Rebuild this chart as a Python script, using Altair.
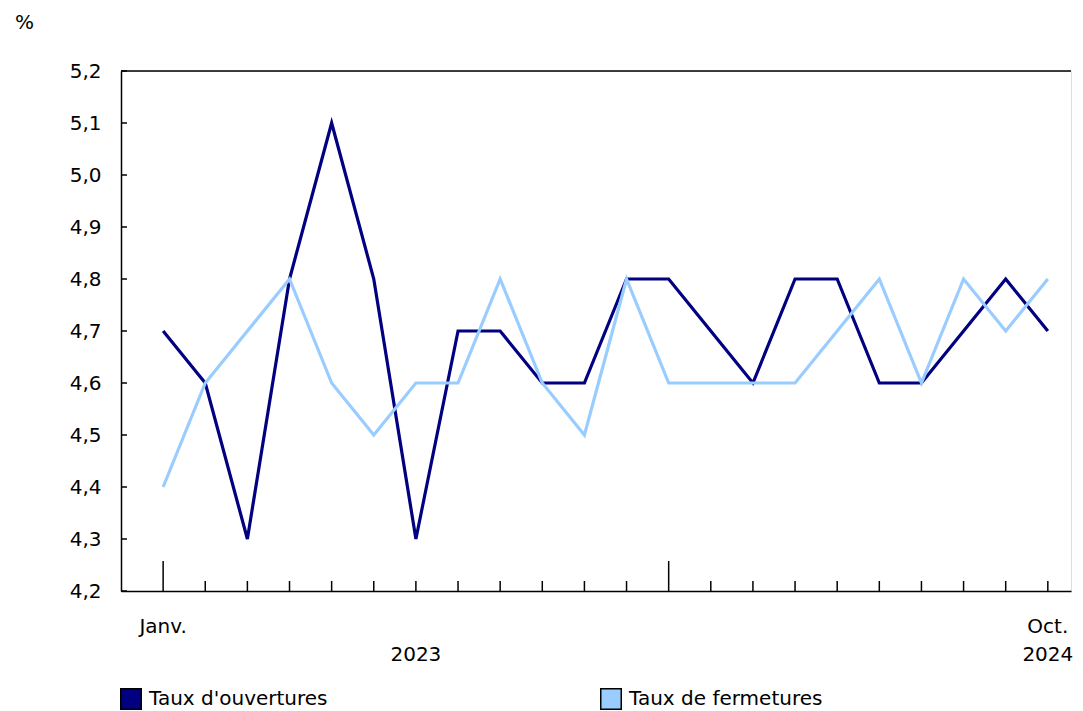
import altair as alt
import pandas as pd

# ---- data ----
month_idx = list(range(22))  # Jan 2023 .. Oct 2024
ouvertures = [4.7, 4.6, 4.3, 4.8, 5.1, 4.8, 4.3, 4.7, 4.7, 4.6, 4.6, 4.8,
              4.8, 4.7, 4.6, 4.8, 4.8, 4.6, 4.6, 4.7, 4.8, 4.7]
fermetures = [4.4, 4.6, 4.7, 4.8, 4.6, 4.5, 4.6, 4.6, 4.8, 4.6, 4.5, 4.8,
              4.6, 4.6, 4.6, 4.6, 4.7, 4.8, 4.6, 4.8, 4.7, 4.8]
series_names = ["Taux d'ouvertures", "Taux de fermetures"]
series_colors = ["#000080", "#99CCFF"]
y_ticks = [4.2, 4.3, 4.4, 4.5, 4.6, 4.7, 4.8, 4.9, 5.0, 5.1, 5.2]
major_ticks = [0, 12]
minor_ticks = [i for i in month_idx if i not in major_ticks]
month_labels = ["Janv.", "Oct."]
month_label_idx = [0, 21]
year_labels = ["2023", "2024"]
year_label_idx = [6, 21]

W, H = 950, 520
FONT = "DejaVu Sans"
FS = 20

df = pd.DataFrame({
    "idx": month_idx * 2,
    "value": ouvertures + fermetures,
    "series": [series_names[0]] * 22 + [series_names[1]] * 22,
})

xscale = alt.Scale(domain=[-1, 21.55], nice=False, zero=False)
yscale = alt.Scale(domain=[4.2, 5.2], nice=False, zero=False)
cscale = alt.Scale(domain=series_names, range=series_colors)

lines = alt.Chart(df).mark_line(strokeWidth=3.2, strokeJoin="miter").encode(
    x=alt.X("idx:Q", scale=xscale,
            axis=alt.Axis(labels=False, ticks=False, grid=False, title=None,
                          domainColor="black", domainWidth=1.5)),
    y=alt.Y("value:Q", scale=yscale,
            axis=alt.Axis(values=y_ticks, ticks=False, grid=False,
                          labelExpr="replace(format(datum.value, '.1f'), '.', ',')",
                          labelPadding=20, labelFontSize=FS, labelColor="black",
                          labelFont=FONT, domainColor="black", domainWidth=1.5,
                          title="%", titleAngle=0, titleX=-97, titleY=-49,
                          titleAlign="center", titleBaseline="middle",
                          titleFontSize=FS, titleFontWeight="normal",
                          titleFont=FONT, titleColor="black")),
    color=alt.Color("series:N", scale=cscale, legend=None),
)

# manual legend (one square + label per series)
legend_layers = []
for k, name in enumerate(series_names):
    ldf = pd.DataFrame({"series": [name]})
    sq = alt.Chart(ldf).mark_square(size=420, filled=True, stroke="black",
                                    strokeWidth=1.5, opacity=1).encode(
        x=alt.value(10 + 480 * k), y=alt.value(628),
        fill=alt.Fill("series:N", scale=cscale, legend=None))
    tx = alt.Chart(ldf).mark_text(font=FONT, fontSize=FS, color="black",
                                  align="left", baseline="middle").encode(
        x=alt.value(28 + 480 * k), y=alt.value(628), text="series:N")
    legend_layers += [sq, tx]

ytick_df = pd.DataFrame({"v": y_ticks})
yticks = alt.Chart(ytick_df).mark_rule(color="black", strokeWidth=1.5).encode(
    y=alt.Y("v:Q", scale=yscale),
    x=alt.value(0), x2=alt.value(6),
)

top_df = pd.DataFrame({"v": [y_ticks[-1]]})
top_line = alt.Chart(top_df).mark_rule(color="black", strokeWidth=1.5).encode(
    y=alt.Y("v:Q", scale=yscale),
    x=alt.value(0), x2=alt.value(W),
)

minor_df = pd.DataFrame({"i": minor_ticks})
minor = alt.Chart(minor_df).mark_rule(color="black", strokeWidth=1.5).encode(
    x=alt.X("i:Q", scale=xscale),
    y=alt.value(H), y2=alt.value(H - 10),
)
major_df = pd.DataFrame({"i": major_ticks})
major = alt.Chart(major_df).mark_rule(color="black", strokeWidth=1.5).encode(
    x=alt.X("i:Q", scale=xscale),
    y=alt.value(H), y2=alt.value(H - 30),
)

mlab_df = pd.DataFrame({"i": month_label_idx, "t": month_labels})
mlab = alt.Chart(mlab_df).mark_text(font=FONT, fontSize=FS, color="black",
                                    baseline="middle", align="center").encode(
    x=alt.X("i:Q", scale=xscale), y=alt.value(556), text="t:N")
ylab_df = pd.DataFrame({"i": year_label_idx, "t": year_labels})
ylab = alt.Chart(ylab_df).mark_text(font=FONT, fontSize=FS, color="black",
                                    baseline="middle", align="center").encode(
    x=alt.X("i:Q", scale=xscale), y=alt.value(584), text="t:N")

chart = alt.layer(top_line, yticks, minor, major, mlab, ylab, lines,
                  *legend_layers).properties(
    width=W, height=H,
    autosize=alt.AutoSizeParams(type="none"),
    padding={"left": 113, "top": 63, "right": 4, "bottom": 120},
).configure_view(stroke=None).configure(background="white")

chart.save("out.html", embed_options={"renderer": "svg", "actions": False})
